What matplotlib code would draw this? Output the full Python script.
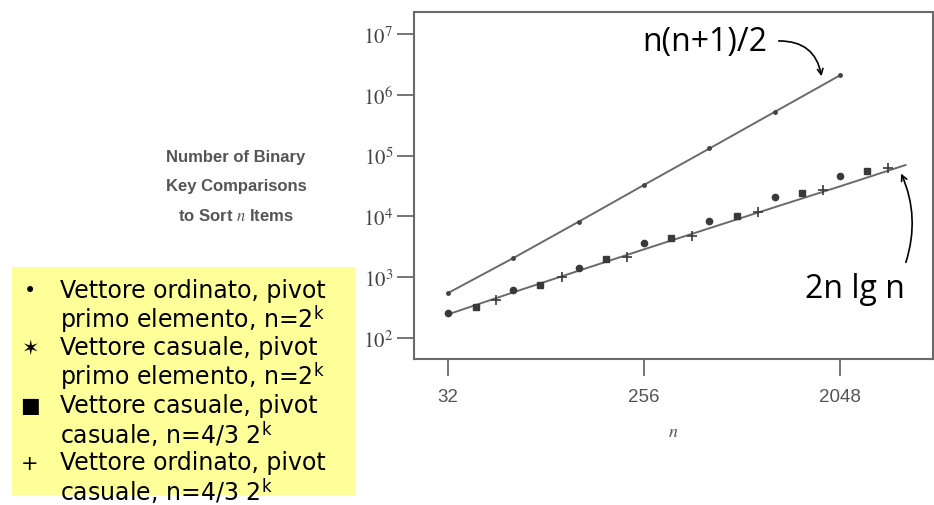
import math
import matplotlib
matplotlib.use('Agg')
import matplotlib.pyplot as plt
from matplotlib.patches import Rectangle

plt.rcParams['mathtext.fontset'] = 'stix'

# n(n+1)/2 curve, sorted vector with first element pivot (n = 2^k)
n_pow2 = [32, 64, 128, 256, 512, 1024, 2048]
ordered_first = [550, 2070, 8200, 33000, 131000, 525000, 2100000]

# 2n lg n reference line
n_line = [32, 64, 128, 256, 512, 1024, 2048, 4096]
line_vals = [245, 565, 1280, 2880, 6400, 14200, 31300, 70000]

# random vector, first element pivot (n = 2^k)
random_first = [258, 616, 1414, 3640, 8400, 20900, 45700]
# random vector, random pivot
n_sq = [43, 85, 171, 341, 683, 1365, 2731]
random_random = [320, 740, 2000, 4400, 10000, 24000, 56000]
# sorted vector, random pivot
n_plus = [53, 107, 213, 427, 853, 1707, 3413]
ordered_random = [421, 1008, 2150, 4750, 11700, 27100, 62800]

x_ticks = [32, 256, 2048]
y_ticks = [1e2, 1e3, 1e4, 1e5, 1e6, 1e7]

legend_markers = ['•', '✶', '■', '+']
legend_lines = ['Vettore ordinato, pivot', r'primo elemento, n=2$^{\mathregular{k}}$',
                'Vettore casuale, pivot', r'primo elemento, n=2$^{\mathregular{k}}$',
                'Vettore casuale, pivot', r'casuale, n=4/3 2$^{\mathregular{k}}$',
                'Vettore ordinato, pivot', r'casuale, n=4/3 2$^{\mathregular{k}}$']

W, H = 934, 506


def px(x, y):
    return x / W, 1 - y / H


fig = plt.figure(figsize=(W / 100, H / 100), dpi=100)
l, b = px(414, 360)
r, t = px(933, 13)
ax = fig.add_axes([l, b, r - l, t - b])

ax.set_xscale('log', base=2)
ax.set_yscale('log')
ax.set_xlim(22.3, 5480)
ax.set_ylim(45.2, 2.3e7)

grey = '#6a6a6a'
ax.plot(n_pow2, ordered_first, color=grey, lw=1.4, marker='o', ms=2.5, mfc='#444', mec='#444')
ax.plot(n_line, line_vals, color=grey, lw=1.4)
ax.plot(n_pow2, random_first, ls='none', marker='o', ms=4.5, color='#3a3a3a')
ax.plot(n_sq, random_random, ls='none', marker='s', ms=4.5, color='#3a3a3a')
ax.plot(n_plus, ordered_random, ls='none', marker='+', ms=7, mew=1.2, color='#3a3a3a')

ax.set_xticks(x_ticks)
ax.set_xticklabels([str(v) for v in x_ticks], fontsize=13.5, color='#555', family='Liberation Sans')
ax.set_yticks(y_ticks)
ax.set_yticklabels([r'$10^{%d}$' % round(math.log10(v)) for v in y_ticks],
                   fontsize=15, color='#444')
ax.minorticks_off()
ax.tick_params(axis='both', direction='out', length=12, width=1.3, color=grey)
ax.tick_params(axis='x', pad=9)
ax.tick_params(axis='y', pad=3)
for s in ax.spines.values():
    s.set_color(grey)
    s.set_linewidth(1.5)
ax.set_xlabel('$n$', fontsize=13, color='#555', labelpad=12)

# curve labels with arrows
fig.text(*px(642, 42), 'n(n+1)/2', fontsize=23, family='Open Sans', va='center', ha='left')
ax.annotate('', xy=px(822, 80), xycoords='figure fraction',
            xytext=px(776, 42), textcoords='figure fraction',
            arrowprops=dict(arrowstyle='->', color='black', lw=1.2,
                            connectionstyle='arc3,rad=-0.45'))
fig.text(*px(855, 290), '2n lg n', fontsize=23, family='Open Sans', va='center', ha='center')
ax.annotate('', xy=px(900, 172), xycoords='figure fraction',
            xytext=px(905, 266), textcoords='figure fraction',
            arrowprops=dict(arrowstyle='->', color='black', lw=1.2,
                            connectionstyle='arc3,rad=0.2'))

# left axis caption from the scanned figure
for i, line in enumerate(['Number of Binary', 'Key Comparisons', r'to Sort $n$ Items']):
    fig.text(*px(236, 158 + 29 * i), line, fontsize=12, color='#555', ha='center',
             va='center', family='Liberation Sans', weight='bold')

# yellow legend box
x0, y0 = px(12, 496)
x1, y1 = px(355, 268)
fig.add_artist(Rectangle((x0, y0), x1 - x0, y1 - y0, transform=fig.transFigure,
                         facecolor='#ffff99', edgecolor='none', zorder=0))
for i, m in enumerate(legend_markers):
    fig.text(*px(30, 291 + 57.5 * i), m, fontsize=15, ha='center', va='center',
             family='DejaVu Sans')
for i, line in enumerate(legend_lines):
    fig.text(*px(60, 291 + 28.7 * i), line, fontsize=17, ha='left', va='center',
             family='DejaVu Sans')

fig.savefig('out.png', dpi=100)
